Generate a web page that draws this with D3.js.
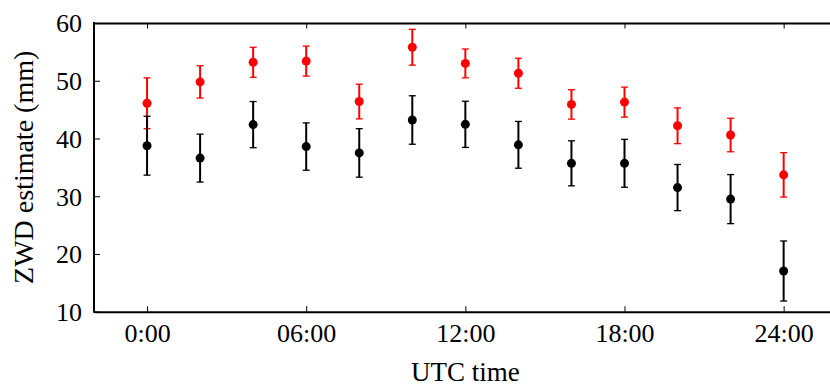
<!DOCTYPE html>
<html>
<head>
<meta charset="utf-8">
<script src="https://cdn.jsdelivr.net/npm/d3@7"></script>
<style>
  body { margin: 0; background: #fff; }
  svg text { font-family: "Liberation Serif", "DejaVu Serif", serif; fill: #000; }
</style>
</head>
<body>
<svg id="chart" width="830" height="387"></svg>
<script>
// hours of the day (UTC)
const hours = [0, 2, 4, 6, 8, 10, 12, 14, 16, 18, 20, 22, 24]

// red series: estimate and error
const redValues = [46.1, 49.8, 53.2, 53.4, 46.4, 55.8, 53.0, 51.3, 45.9, 46.3, 42.2, 40.6, 33.7]
const redErrors = [4.4, 2.8, 2.6, 2.6, 3.0, 3.1, 2.5, 2.6, 2.55, 2.6, 3.1, 2.9, 3.85]

// black series: estimate and error
const blackValues = [38.75, 36.6, 42.4, 38.6, 37.5, 43.2, 42.45, 38.9, 35.7, 35.7, 31.5, 29.5, 17.05]
const blackErrors = [5.1, 4.15, 4.0, 4.1, 4.2, 4.2, 4.0, 4.05, 3.9, 4.15, 4.0, 4.25, 5.2]

const xTicks = [0, 6, 12, 18, 24]
const xTickLabels = ['0:00', '06:00', '12:00', '18:00', '24:00']
const yTicks = [10, 20, 30, 40, 50, 60]

const svg = d3.select('#chart')

const plotLeft = 94
const plotRight = 836.7
const plotTop = 23
const plotBottom = 311.7

const x = d3.scaleLinear().domain([-2, 26]).range([plotLeft, plotRight])
const y = d3.scaleLinear().domain([10, 60]).range([plotBottom, plotTop])

// axes (ticks point inward)
const xAxisBottom = d3.axisBottom(x)
  .tickValues(xTicks)
  .tickFormat((d, i) => xTickLabels[i])
  .tickSizeInner(-5.5)
  .tickSizeOuter(0)
  .tickPadding(11)

const xAxisTop = d3.axisTop(x)
  .tickValues(xTicks)
  .tickFormat('')
  .tickSizeInner(-5.5)
  .tickSizeOuter(0)

const yAxis = d3.axisLeft(y)
  .tickValues(yTicks)
  .tickSizeInner(-6)
  .tickSizeOuter(0)
  .tickPadding(12)

const gb = svg.append('g').attr('transform', `translate(0,${plotBottom})`).call(xAxisBottom)
const gt = svg.append('g').attr('transform', `translate(0,${plotTop})`).call(xAxisTop)
const gl = svg.append('g').attr('transform', `translate(${plotLeft},0)`).call(yAxis)

;[gb, gt, gl].forEach(g => {
  g.select('.domain').attr('stroke', '#000').attr('stroke-width', 2)
  g.selectAll('.tick line').attr('stroke', '#000').attr('stroke-width', 1)
  g.selectAll('.tick text')
    .style('font-family', '"Liberation Serif", "DejaVu Serif", serif')
    .style('font-size', '26px')
})
gb.selectAll('.tick text').attr('dy', '0.75em')
gl.selectAll('.tick text').attr('dy', '0.34em')

// the left spine must reach the top and bottom spines
gl.select('.domain').attr('d', `M0,${plotBottom + 1}V${plotTop - 1}`)

function drawSeries (values, errors, color) {
  const data = hours.map((h, i) => ({ h, v: values[i], e: errors[i] }))
  const g = svg.append('g')
  g.selectAll('line.bar')
    .data(data)
    .join('line')
    .attr('class', 'bar')
    .attr('x1', d => x(d.h)).attr('x2', d => x(d.h))
    .attr('y1', d => y(d.v - d.e)).attr('y2', d => y(d.v + d.e))
    .attr('stroke', color).attr('stroke-width', 2)
  const caps = data.flatMap(d => [{ h: d.h, v: d.v - d.e }, { h: d.h, v: d.v + d.e }])
  g.selectAll('line.cap')
    .data(caps)
    .join('line')
    .attr('class', 'cap')
    .attr('x1', d => x(d.h) - 3.5).attr('x2', d => x(d.h) + 3.5)
    .attr('y1', d => y(d.v)).attr('y2', d => y(d.v))
    .attr('stroke', color).attr('stroke-width', 1.3)
  g.selectAll('circle')
    .data(data)
    .join('circle')
    .attr('cx', d => x(d.h))
    .attr('cy', d => y(d.v))
    .attr('r', 4.5)
    .attr('fill', color)
}

drawSeries(redValues, redErrors, '#ff0000')
drawSeries(blackValues, blackErrors, '#000000')

// axis labels
svg.append('text')
  .attr('x', (plotLeft + plotRight) / 2)
  .attr('y', 381)
  .attr('text-anchor', 'middle')
  .style('font-size', '27px')
  .text('UTC time')

svg.append('text')
  .attr('transform', `translate(33,${(plotTop + plotBottom) / 2}) rotate(-90)`)
  .attr('text-anchor', 'middle')
  .style('font-size', '28px')
  .text('ZWD estimate (mm)')
</script>
</body>
</html>
